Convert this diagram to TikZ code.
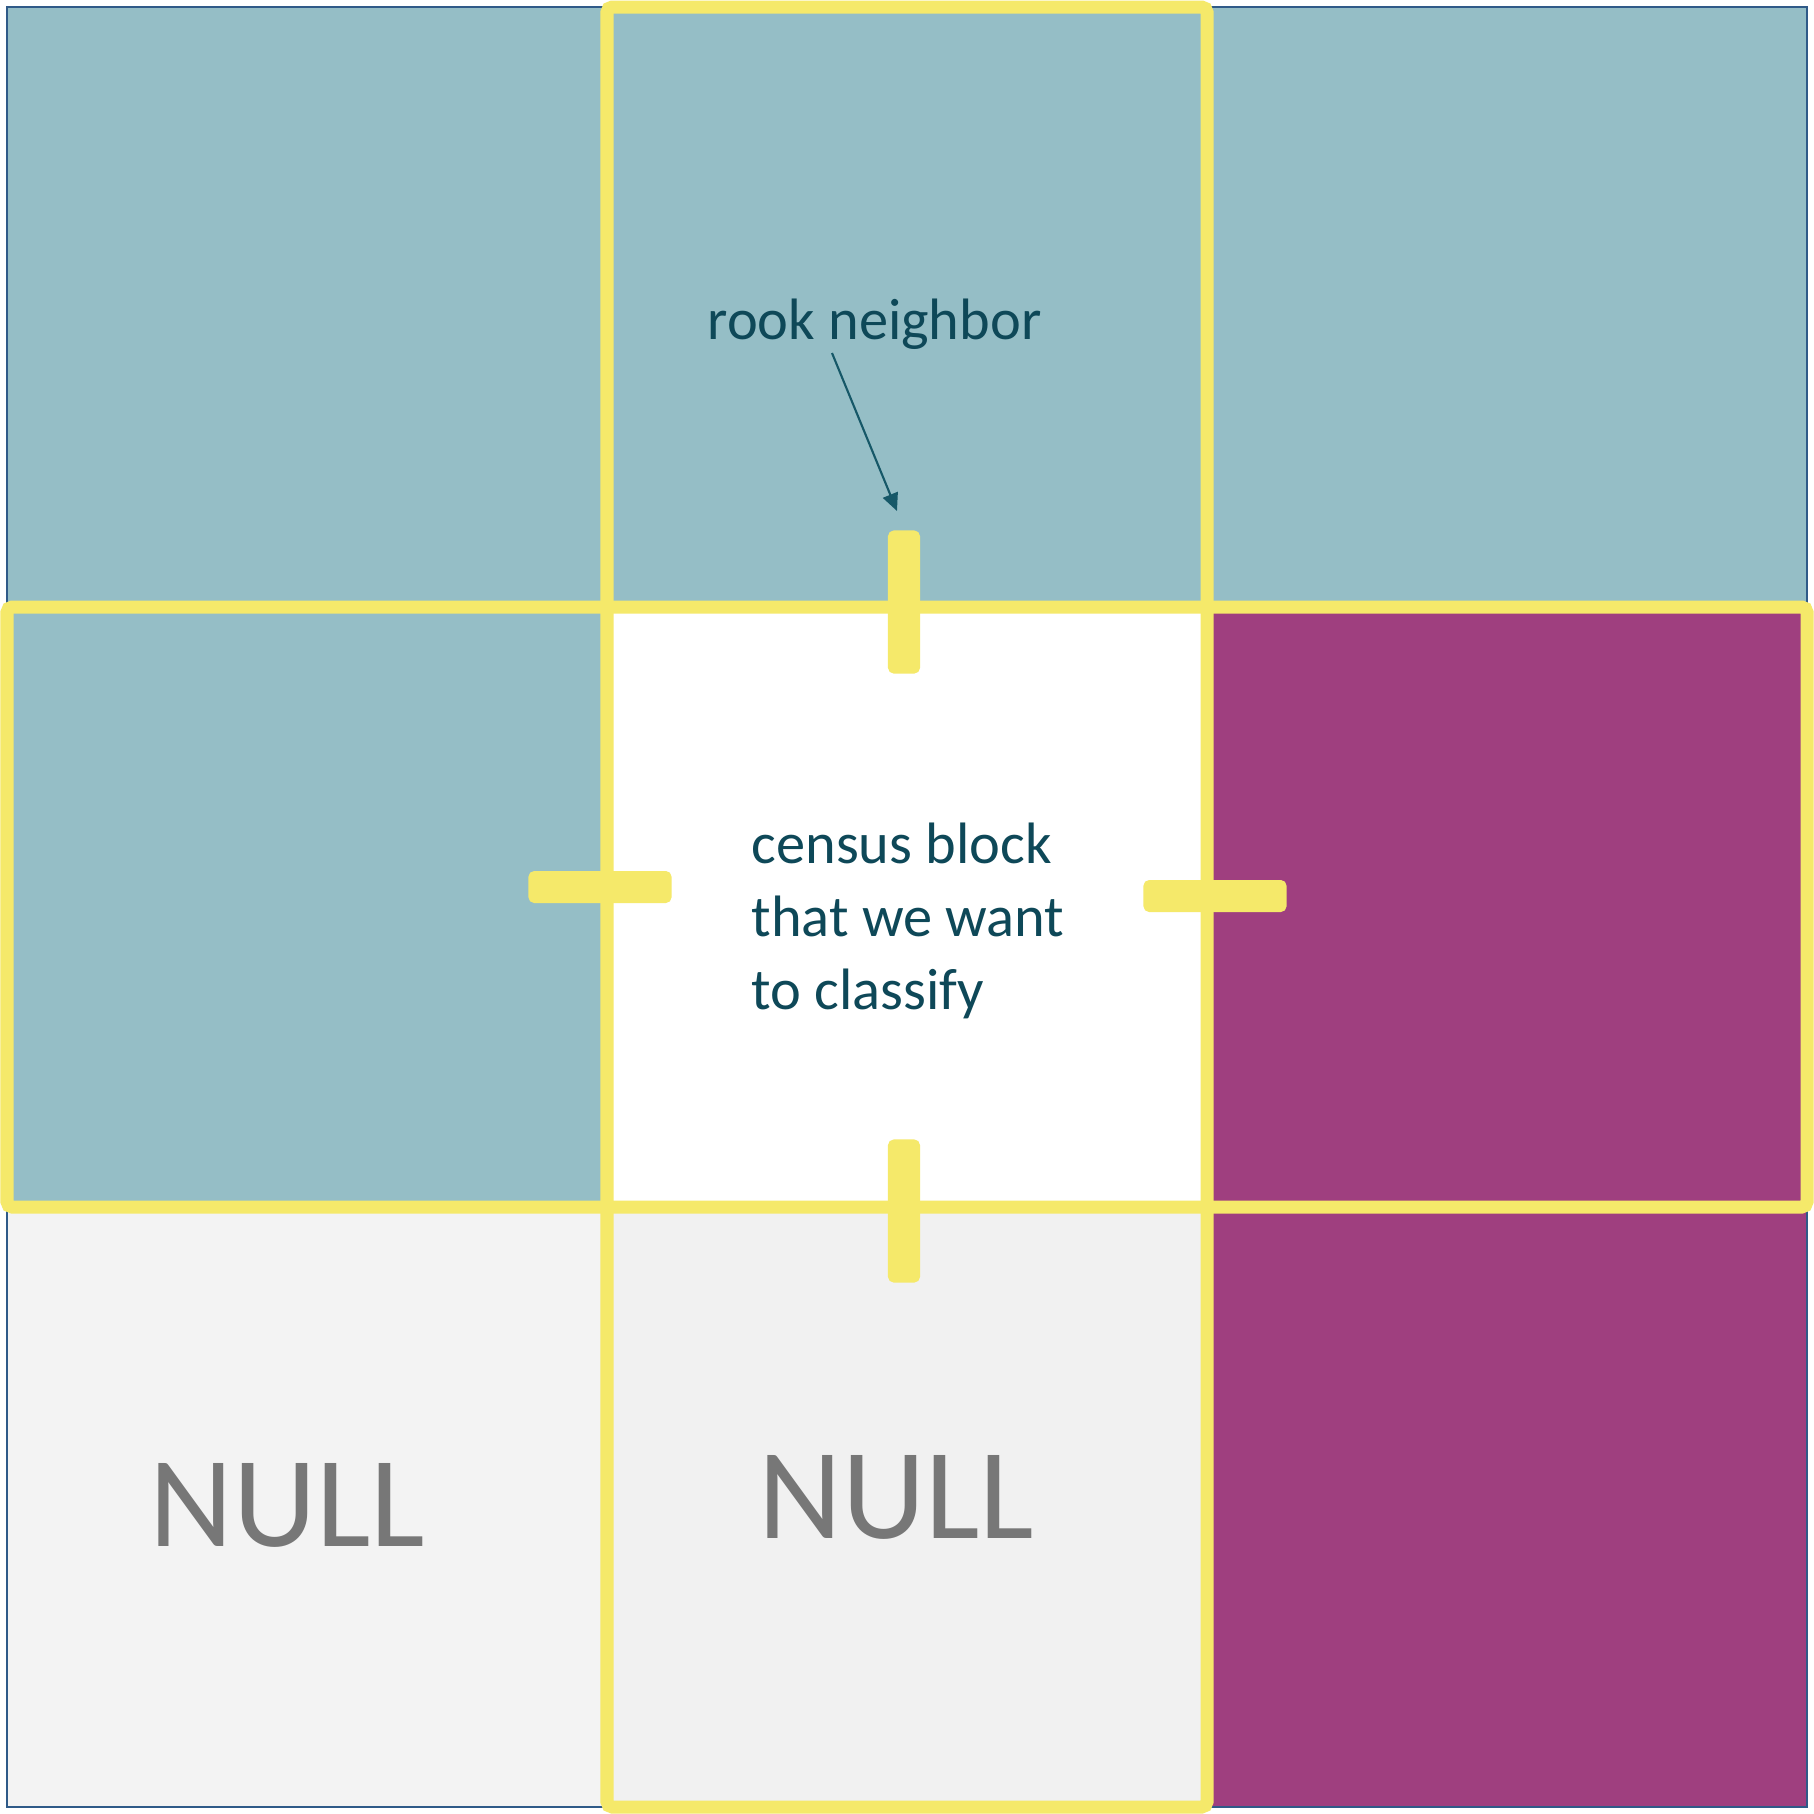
\documentclass[tikz,border=0pt]{standalone}
\usepackage{fontspec}
\setmainfont{Carlito}
\usetikzlibrary{arrows.meta}
\definecolor{tealcell}{HTML}{95BEC6}
\definecolor{purplecell}{HTML}{9F3F7F}
\definecolor{nullA}{HTML}{F3F3F3}
\definecolor{nullB}{HTML}{F1F1F1}
\definecolor{yel}{HTML}{F5E96A}
\definecolor{bordc}{HTML}{2F5A88}
\definecolor{txtdark}{HTML}{0E4858}
\definecolor{arrowc}{HTML}{165868}
\definecolor{graytxt}{HTML}{777777}
\tikzset{
  yelframe/.style={draw=yel, line width=3.7pt, rounded corners=1.5pt},
  tickv/.style={fill=yel, rounded corners=1.6pt, minimum width=0.32cm, minimum height=1.43cm, inner sep=0pt, draw=none},
  tickh/.style={fill=yel, rounded corners=1.6pt, minimum width=1.43cm, minimum height=0.32cm, inner sep=0pt, draw=none},
  labeltxt/.style={anchor=base west, inner sep=0pt, text=txtdark, font=\fontsize{16.6}{20.8}\selectfont},
  nulltxt/.style={anchor=base west, inner sep=0pt, text=graytxt, font=\fontsize{36.8}{40}\selectfont},
  pointer/.style={draw=arrowc, line width=0.6pt, -{Triangle[length=5pt,width=4.5pt]}}
}
\begin{document}
\begin{tikzpicture}[x=0.01cm,y=-0.01cm]
\useasboundingbox (0,0) rectangle (1814,1814);
\fill[white] (0,0) rectangle (1814,1814);
% cells
\fill[tealcell] (7,7) rectangle (607,607);
\fill[tealcell] (607,7) rectangle (1207,607);
\fill[tealcell] (1207,7) rectangle (1807,607);
\fill[tealcell] (7,607) rectangle (607,1207);
\fill[white] (607,607) rectangle (1207,1207);
\fill[purplecell] (1207,607) rectangle (1807,1207);
\fill[nullA] (7,1207) rectangle (607,1807);
\fill[nullB] (607,1207) rectangle (1207,1807);
\fill[purplecell] (1207,1207) rectangle (1807,1807);
% outer border
\draw[bordc, line width=0.6pt] (7,7) rectangle (1807,1807);
% yellow frames
\draw[yelframe] (607,7) rectangle (1207,1807);
\draw[yelframe] (7,607) rectangle (1807,1207);
% ticks
\node[tickv] (ttop) at (904,602) {};
\node[tickv] (tbot) at (904,1211) {};
\node[tickh] (tleft) at (600,887) {};
\node[tickh] (tright) at (1215,896) {};
% texts
\node[labeltxt] (rook) at (707,339) {rook neighbor};
\node[labeltxt] (c1) at (751,863) {census block};
\node[labeltxt] (c2) at (751,936) {that we want};
\node[labeltxt] (c3) at (751,1009) {to classify};
\node[nulltxt] (null1) at (149,1546) {NULL};
\node[nulltxt] (null2) at (758,1538) {NULL};
% arrow
\coordinate (astart) at (832,353);
\coordinate (aend) at (897,511);
\draw[pointer] (astart) -- (aend);
\end{tikzpicture}
\end{document}
